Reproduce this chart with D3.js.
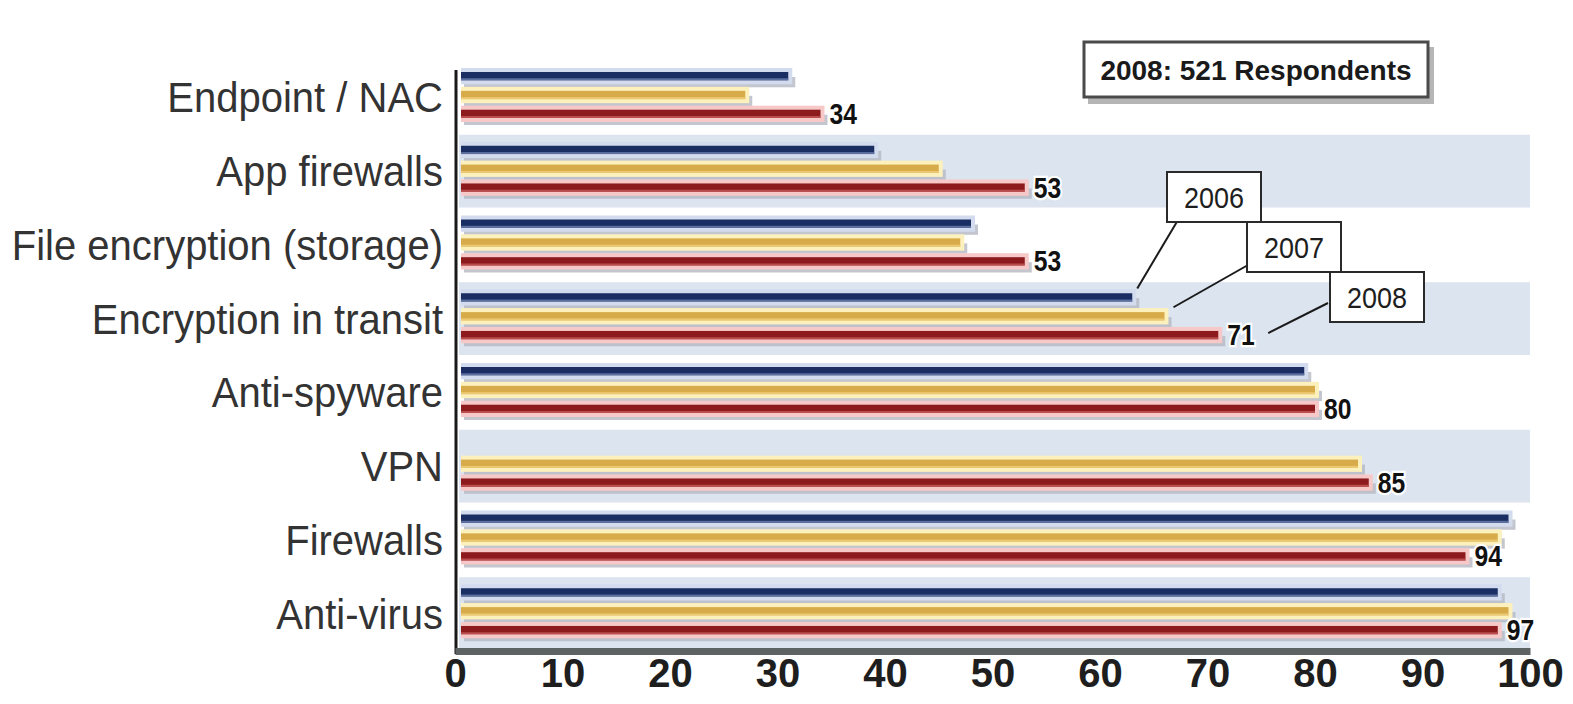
<!DOCTYPE html>
<html>
<head>
<meta charset="utf-8">
<script src="https://cdn.jsdelivr.net/npm/d3@7"></script>
<style>
  html, body { margin: 0; padding: 0; background: #ffffff; }
  svg { display: block; font-family: "Liberation Sans", Arial, Helvetica, sans-serif; }
</style>
</head>
<body>
<svg id="chart" width="1573" height="704"></svg>
<script>
// Security technologies in use, share of respondents (%)
const categories = [
  "Endpoint / NAC",
  "App firewalls",
  "File encryption (storage)",
  "Encryption in transit",
  "Anti-spyware",
  "VPN",
  "Firewalls",
  "Anti-virus"
];
const years = ["2006", "2007", "2008"];
const values2006 = [31, 39, 48, 63, 79, null, 98, 97];
const values2007 = [27, 45, 47, 66, 80, 84, 97, 98];
const values2008 = [34, 53, 53, 71, 80, 85, 94, 97];
const xTicks = [0, 10, 20, 30, 40, 50, 60, 70, 80, 90, 100];
const respondentsNote = "2008: 521 Respondents";

const seriesByYear = { "2006": values2006, "2007": values2007, "2008": values2008 };

const coreColor = { "2006": "#1b2e63", "2007": "#d8ab4a", "2008": "#8d1b1d" };
const haloColor = { "2006": "#d3dbee", "2007": "#fcf0bd", "2008": "#f7c8c8" };
const edgeColor = { "2006": "#6d7fae", "2007": "#f0cf7a", "2008": "#c65a5a" };

const svg = d3.select("#chart");

const x = d3.scaleLinear().domain([0, 100]).range([455, 1530]);
const y = d3.scaleBand().domain(categories).range([60, 650]);
const yInner = d3.scaleBand().domain(years).range([12, 58]).paddingInner(0.56);

// alternating shaded rows
svg.append("g").selectAll("rect")
  .data(categories.filter((c, i) => i % 2 === 1))
  .join("rect")
  .attr("x", x(0) + 4)
  .attr("y", d => y(d) + 1)
  .attr("width", x(100) - x(0) - 4)
  .attr("height", y.bandwidth() - 1)
  .attr("fill", "#dbe4ef");

// flatten bars
const bars = [];
categories.forEach((c, i) => {
  years.forEach(yr => {
    const v = seriesByYear[yr][i];
    if (v !== null) bars.push({ cat: c, year: yr, value: v });
  });
});

const barH = yInner.bandwidth();
const barTop = d => y(d.cat) + yInner(d.year);
const barX0 = x(0) + 6;

const gBars = svg.append("g");

// soft drop shadows
gBars.selectAll("rect.shadow")
  .data(bars)
  .join("rect")
  .attr("class", "shadow")
  .attr("x", barX0 + 3)
  .attr("y", d => barTop(d) + 5)
  .attr("width", d => x(d.value) - barX0 + 4)
  .attr("height", barH + 2)
  .attr("fill", "#b4b8c2")
  .attr("opacity", 0.8);

// pale halos
gBars.selectAll("rect.halo")
  .data(bars)
  .join("rect")
  .attr("class", "halo")
  .attr("x", barX0)
  .attr("y", d => barTop(d) - 4)
  .attr("width", d => x(d.value) - barX0 + 4)
  .attr("height", barH + 8)
  .attr("fill", d => haloColor[d.year]);

// bar bodies
gBars.selectAll("rect.core")
  .data(bars)
  .join("rect")
  .attr("class", "core")
  .attr("x", barX0)
  .attr("y", d => barTop(d))
  .attr("width", d => x(d.value) - barX0)
  .attr("height", barH)
  .attr("fill", d => coreColor[d.year]);

// lighter lower edge on each bar
gBars.selectAll("rect.edge")
  .data(bars)
  .join("rect")
  .attr("class", "edge")
  .attr("x", barX0)
  .attr("y", d => barTop(d) + barH - 2)
  .attr("width", d => x(d.value) - barX0)
  .attr("height", 2)
  .attr("fill", d => edgeColor[d.year])
  .attr("opacity", 0.8);

// 2008 value labels
svg.append("g").selectAll("text")
  .data(bars.filter(d => d.year === "2008"))
  .join("text")
  .attr("transform", d => `translate(${x(d.value) + 9},${barTop(d) + barH / 2 + 10}) scale(0.95,1.15)`)
  .attr("font-size", 26)
  .attr("font-weight", "bold")
  .attr("fill", "#111")
  .attr("stroke", "#ffffff")
  .attr("stroke-width", 4)
  .attr("paint-order", "stroke")
  .text(d => d.value);

// category axis
const yAxis = svg.append("g")
  .attr("transform", `translate(${x(0)},0)`)
  .call(d3.axisLeft(y).tickSize(0).tickPadding(12));
yAxis.select(".domain").remove();
yAxis.selectAll("text")
  .attr("font-family", "'Liberation Sans', Arial, sans-serif")
  .attr("font-size", 40)
  .attr("fill", "#333333")
  .attr("dy", "0.36em")
  .attr("transform", "scale(1,1.08)");

svg.append("line")
  .attr("x1", x(0) + 1).attr("x2", x(0) + 1)
  .attr("y1", 70).attr("y2", y.range()[1] + 4)
  .attr("stroke", "#1a1a1a")
  .attr("stroke-width", 3);

// value axis
const xAxis = svg.append("g")
  .attr("transform", `translate(0,${y.range()[1] + 1})`)
  .call(d3.axisBottom(x).tickValues(xTicks).tickSize(0).tickPadding(8));
xAxis.select(".domain")
  .attr("stroke", "#5d6263")
  .attr("stroke-width", 7);
xAxis.selectAll("text")
  .attr("font-family", "'Liberation Sans', Arial, sans-serif")
  .attr("font-size", 40)
  .attr("font-weight", "bold")
  .attr("fill", "#1e1e1e");

// respondents note
const note = svg.append("g").attr("transform", "translate(1084,42)");
note.append("rect")
  .attr("x", 4).attr("y", 5).attr("width", 346).attr("height", 57)
  .attr("fill", "#b5b5b5");
note.append("rect")
  .attr("x", 0).attr("y", 0).attr("width", 344).attr("height", 55)
  .attr("fill", "#ffffff").attr("stroke", "#4a4a4a").attr("stroke-width", 3);
note.append("text")
  .attr("x", 172).attr("y", 38)
  .attr("text-anchor", "middle")
  .attr("font-size", 28)
  .attr("font-weight", "bold")
  .attr("fill", "#1a1a1a")
  .text(respondentsNote);

// series callouts pointing at the Encryption in transit bars
const calloutCat = "Encryption in transit";
const calloutIdx = categories.indexOf(calloutCat);
const callouts = [
  { year: "2006", box: [1167, 172], anchor: [1178, 220], dx: 5, dy: -9 },
  { year: "2007", box: [1247, 222], anchor: [1248, 265], dx: 9, dy: -9 },
  { year: "2008", box: [1330, 272], anchor: [1328, 303], dx: 50, dy: -2 }
];
const gCall = svg.append("g");
callouts.forEach(c => {
  const v = seriesByYear[c.year][calloutIdx];
  const cy = y(calloutCat) + yInner(c.year) + barH / 2;
  gCall.append("line")
    .attr("x1", c.anchor[0]).attr("y1", c.anchor[1])
    .attr("x2", x(v) + c.dx).attr("y2", cy + c.dy)
    .attr("stroke", "#1a1a1a").attr("stroke-width", 2);
});
callouts.forEach(c => {
  gCall.append("rect")
    .attr("x", c.box[0]).attr("y", c.box[1])
    .attr("width", 94).attr("height", 50)
    .attr("fill", "#ffffff").attr("stroke", "#2a2a2a").attr("stroke-width", 2);
  gCall.append("text")
    .attr("transform", `translate(${c.box[0] + 47},${c.box[1] + 36}) scale(1,1.1)`)
    .attr("text-anchor", "middle")
    .attr("font-size", 27)
    .attr("fill", "#1e1e1e")
    .text(c.year);
});
</script>
</body>
</html>
